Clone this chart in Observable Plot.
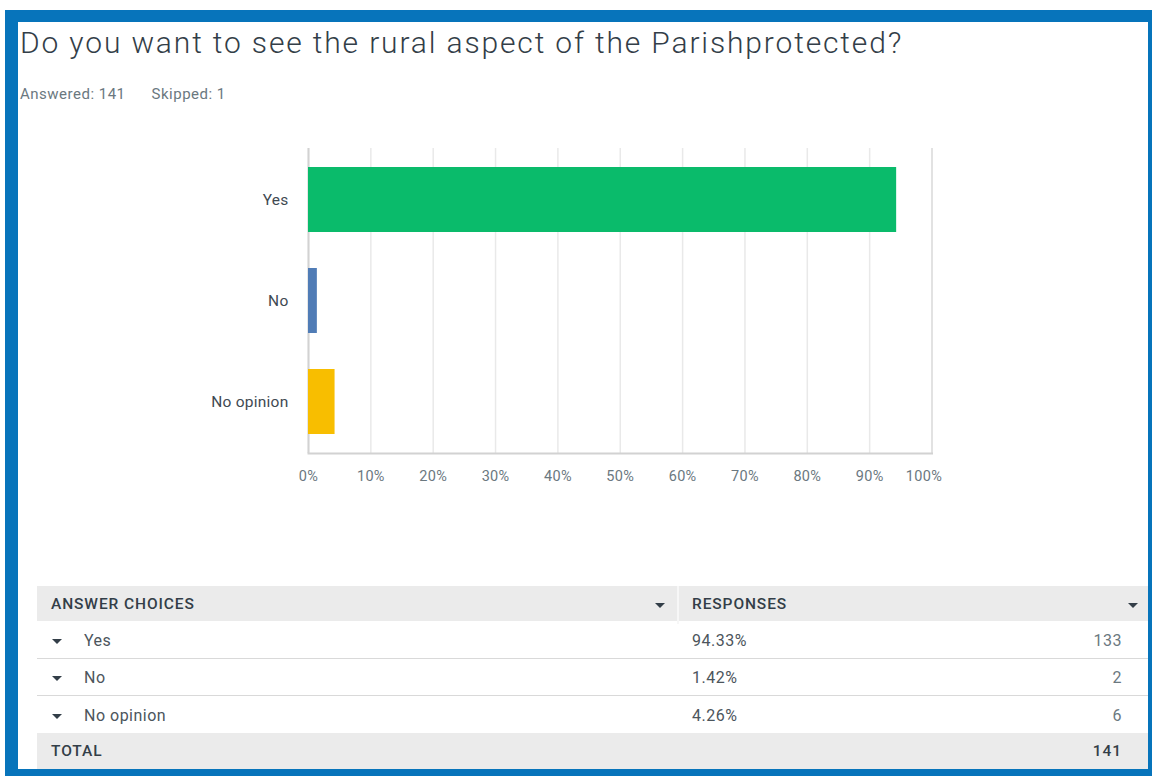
<!DOCTYPE html>
<html>
<head>
<meta charset="utf-8">
<script src="https://cdn.jsdelivr.net/npm/d3@7"></script>
<script src="https://cdn.jsdelivr.net/npm/@observablehq/plot@0.6"></script>
<style>
  html, body { margin: 0; padding: 0; background: #fff; }
  body { width: 1152px; height: 776px; position: relative; overflow: hidden; font-family: Roboto, "Noto Sans", sans-serif; }
  #frame { position: absolute; left: 5px; top: 10px; width: 1130px; height: 747px;
           border-style: solid; border-color: #0774bb; border-width: 12px 4px 7px 13px; background: #fff; }
  #title { position: absolute; left: 20px; top: 28px; font-size: 30px; line-height: 1; font-weight: 300; letter-spacing: 1.85px; color: #333e48; white-space: nowrap; }
  #meta { position: absolute; left: 20px; top: 87px; font-size: 15px; line-height: 1; letter-spacing: 0.5px; color: #6b787f; white-space: nowrap; }
  #meta span + span { margin-left: 26px; }
  #chart { position: absolute; left: 0; top: 130px; }
  #chart svg g[aria-label="y-axis tick label"] text { letter-spacing: 0.25px; }
  #chart svg g[aria-label="x-axis tick label"] text { letter-spacing: 0.3px; }
  #table { position: absolute; left: 37px; top: 586px; width: 1111px; }
  .row { position: relative; display: flex; align-items: center; box-sizing: border-box; font-size: 16px; letter-spacing: 0.5px; color: #4c555c; }
  .row span { line-height: 1; padding-top: 3px; }
  .row span.caret { padding-top: 0; }
  .hdr { height: 35px; background: #ebebeb; font-weight: 500; color: #333e48; font-size: 15.5px; letter-spacing: 0.9px; }
  .body { height: 37.5px; border-bottom: 1.5px solid #d9d9d9; }
  .body.last { border-bottom: none; height: 36.5px; }
  .tot { height: 36px; background: #ebebeb; font-weight: 500; color: #333e48; font-size: 15.5px; letter-spacing: 0.9px; }
  .c1 { position: absolute; left: 14px; }
  .c1b { position: absolute; left: 47px; }
  .c2 { position: absolute; left: 655px; }
  .c3 { position: absolute; right: 26px; color: #6b787f; }
  .tot .c3 { color: #333e48; }
  .caret { position: absolute; width: 0; height: 0; border-left: 5.5px solid transparent; border-right: 5.5px solid transparent; border-top: 5.5px solid #333e48; margin-top: 4px; }
  .divider { position: absolute; left: 640px; top: 0; width: 2px; height: 100%; background: #f7f7f7; }
</style>
</head>
<body>
<div id="frame"></div>
<div id="title"></div>
<div id="meta"></div>
<div id="chart"></div>
<div id="table"></div>
<script>
// ---- data ----
const titleText = "Do you want to see the rural aspect of the Parishprotected?";
const answered = 141;
const skipped = 1;
const categories = ["Yes", "No", "No opinion"];
const percents = [94.33, 1.42, 4.26];
const counts = [133, 2, 6];
const total = 141;
const barColors = ["#0abb6b", "#507cb6", "#f8be00"];
const xTicks = [0, 10, 20, 30, 40, 50, 60, 70, 80, 90, 100];
const headers = ["ANSWER CHOICES", "RESPONSES"];
const totalLabel = "TOTAL";

// ---- header text ----
document.getElementById("title").textContent = titleText;
document.getElementById("meta").innerHTML = `<span>Answered: ${answered}</span><span>Skipped: ${skipped}</span>`;

// ---- chart ----
const data = categories.map((c, i) => ({cat: c, pct: percents[i]}));
const lastTick = xTicks[xTicks.length - 1];
const chart = Plot.plot({
  width: 1152,
  height: 363,
  marginLeft: 308,
  marginRight: 220.5,
  marginTop: 18,
  marginBottom: 40,
  style: {fontFamily: "Roboto, 'Noto Sans', sans-serif", fontSize: "14px", background: "transparent", overflow: "visible"},
  x: {domain: [0, 100]},
  y: {domain: categories, paddingInner: 0.353, paddingOuter: 0.176},
  color: {domain: categories, range: barColors},
  marks: [
    Plot.ruleX(xTicks, {stroke: "#e9e9e9", strokeWidth: 1.5}),
    Plot.ruleX([lastTick], {stroke: "#dedede", strokeWidth: 1.5}),
    Plot.frame({anchor: "bottom", stroke: "#d2d2d2", strokeWidth: 2}),
    Plot.ruleX([0], {stroke: "#d2d2d2", strokeWidth: 2}),
    Plot.barX(data, {x: "pct", y: "cat", fill: "cat"}),
    Plot.axisX({ticks: xTicks.slice(0, -1), tickFormat: d => d + "%", tickSize: 0, tickPadding: 17, fontSize: 14.5, color: "#6b787f", label: null}),
    Plot.axisX({ticks: [lastTick], tickFormat: d => d + "%", tickSize: 0, tickPadding: 17, fontSize: 14.5, color: "#6b787f", label: null, dx: -8}),
    Plot.axisY({tickSize: 0, tickPadding: 20, fontSize: 15.5, color: "#3f4a52", label: null})
  ]
});
document.getElementById("chart").appendChild(chart);

// ---- table ----
const tbl = document.getElementById("table");
let html = `<div class="row hdr"><span class="c1">${headers[0]}</span><span class="caret" style="left:618px"></span><span class="divider"></span><span class="c2">${headers[1]}</span><span class="caret" style="left:1091px"></span></div>`;
categories.forEach((c, i) => {
  const last = i === categories.length - 1 ? " last" : "";
  html += `<div class="row body${last}"><span class="caret" style="left:15px"></span><span class="c1b">${c}</span><span class="c2">${percents[i].toFixed(2)}%</span><span class="c3">${counts[i]}</span></div>`;
});
html += `<div class="row tot"><span class="c1">${totalLabel}</span><span class="c3">${total}</span></div>`;
tbl.innerHTML = html;
</script>
</body>
</html>
